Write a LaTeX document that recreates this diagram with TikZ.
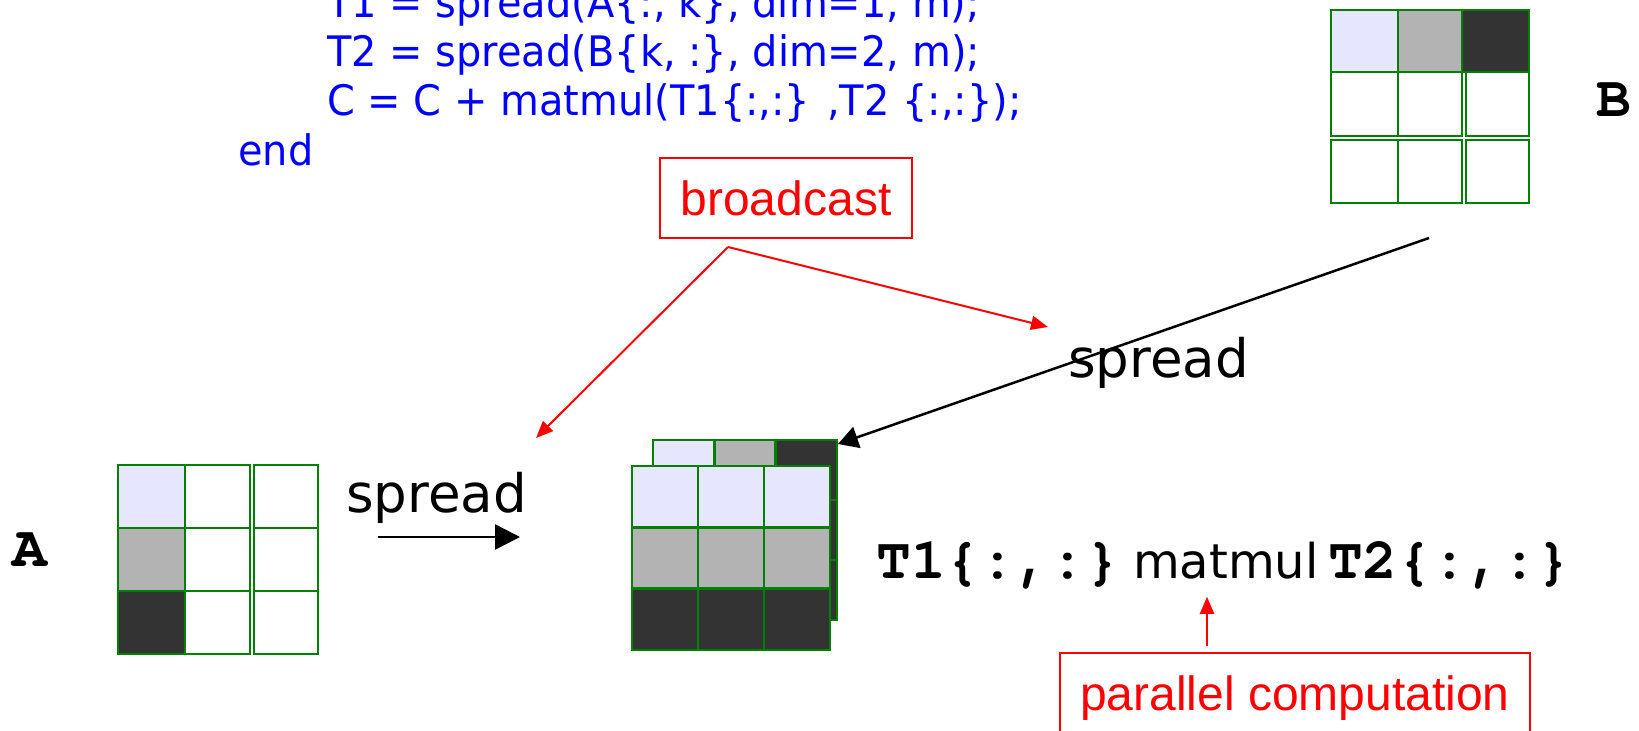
\documentclass[tikz,border=0pt]{standalone}
\usepackage{fontspec}
\usetikzlibrary{arrows.meta, positioning}
\newfontfamily\comicfont{DejaVu Sans}
\newfontfamily\codefont{DejaVu Sans}[FakeStretch=0.95]
\newfontfamily\arialfont{Liberation Sans}
\newfontfamily\courfont{texgyrecursor-bold.otf}
\definecolor{codeblue}{HTML}{0000FF}
\definecolor{gridgreen}{HTML}{008000}
\definecolor{shadeLite}{HTML}{E6E6FF}
\definecolor{shadeMid}{HTML}{B3B3B3}
\definecolor{shadeDark}{HTML}{333333}
\definecolor{alertred}{HTML}{FF0000}

\begin{document}
\begin{tikzpicture}[
    x=1pt, y=-1pt,
    codeline/.style={anchor=base west, inner sep=0pt, text=codeblue,
                     font=\codefont\fontsize{42}{50}\selectfont},
    notebox/.style={draw=alertred, line width=2.5pt, minimum width=252pt, minimum height=80pt,
                    inner sep=0pt, text depth=0pt, text=alertred,
                    font=\arialfont\fontsize{48}{56}\selectfont},
    cell/.style={draw=gridgreen, line width=2.5pt},
    spreadlabel/.style={anchor=base west, inner sep=0pt, font=\comicfont\fontsize{53}{60}\selectfont},
    mono/.style={inner sep=0pt, font=\courfont\fontsize{58}{64}\selectfont},
    bigarrow/.style={-{Triangle[length=25pt, width=25pt]}, line width=2.5pt},
    redarrow/.style={-{Triangle[length=17pt, width=14pt]}, draw=alertred, line width=2pt},
]
    \clip (0,0) rectangle (1639,731);

    % Code
    \node[codeline] (line1) at (327,17) {T1 = spread(A\{:, k\}, dim=1, m);};
    \node[codeline] (line2) at ([yshift=-49pt]line1.base west) {T2 = spread(B\{k, :\}, dim=2, m);};
    \node[codeline] (line3) at ([yshift=-49pt]line2.base west) {C = C + matmul(T1\{:,:\} ,T2 \{:,:\});};
    \node[codeline] (line4) at (238,165) {end};

    % Matrix A
    \foreach \j/\shade in {0/shadeLite,1/shadeMid,2/shadeDark} {
        \filldraw[cell, fill=\shade] (118,{465+63*\j}) rectangle ++(67,63);
        \draw[cell] (185,{465+63*\j}) rectangle ++(65,63);
        \draw[cell] (254,{465+63*\j}) rectangle ++(64,63);
    }
    \node[mono] (labelA) at (30,550) {A};

    % Matrix B
    \foreach \xa/\xb/\xc/\shade in {1331/1398/1331/shadeLite, 1398/1462/1398/shadeMid, 1462/1529/1466/shadeDark} {
        \filldraw[cell, fill=\shade] (\xa,10) rectangle (\xb,72);
        \draw[cell] (\xc,72) rectangle (\xb,136);
        \draw[cell] (\xc,140) rectangle (\xb,203);
    }
    \node[mono] (labelB) at (1614,100) {B};

    % Spread stack: T2 behind, T1 in front
    \foreach \i/\shade in {0/shadeLite,1/shadeMid,2/shadeDark}
        \foreach \j in {0,1,2}
            \filldraw[cell, fill=\shade] ({653+61.3*\i},{440+60*\j}) rectangle ++(61.3,60);
    \foreach \j/\shade in {0/shadeLite,1/shadeMid,2/shadeDark}
        \foreach \i in {0,1,2}
            \filldraw[cell, fill=\shade] ({632+66*\i},{466+61.3*\j}) rectangle ++(66,61.3);

    % Spread labels and arrows
    \node[spreadlabel] (spreadA) at (346,512) {spread};
    \coordinate (arrA0) at (378,537);
    \coordinate (arrA1) at (520,537);
    \draw[bigarrow] (arrA0) -- (arrA1);

    \node[spreadlabel] (spreadB) at (1068,377) {spread};
    \coordinate (Bfoot) at (1429,238);
    \coordinate (stacktip) at (838,444);
    \draw[line width=2.5pt, -{Triangle[length=20pt, width=22pt]}] (Bfoot) -- (stacktip);

    % Broadcast note
    \node[notebox] (broadcast) at (786,198) {broadcast};
    \coordinate (bcfork) at (728,247);
    \coordinate (toA) at (536,438);
    \coordinate (toB) at (1048,327);
    \draw[redarrow] (bcfork) -- (toA);
    \draw[redarrow] (bcfork) -- (toB);

    % Product
    \node[mono, anchor=base west] (T1expr) at (876,578) {T1\{:,:\}};
    \node[anchor=base west, inner sep=0pt, font=\comicfont\fontsize{48}{56}\selectfont]
        (matmul) at ([xshift=13pt]T1expr.base east) {matmul};
    \node[mono, anchor=base west] (T2expr) at ([xshift=9pt]matmul.base east) {T2\{:,:\}};

    % Parallel note
    \node[notebox, minimum width=470pt] (parallel) at (1295,693) {parallel computation};
    \draw[redarrow] ([xshift=-88pt, yshift=6pt]parallel.north) -- ++(0,-49);
\end{tikzpicture}
\end{document}
